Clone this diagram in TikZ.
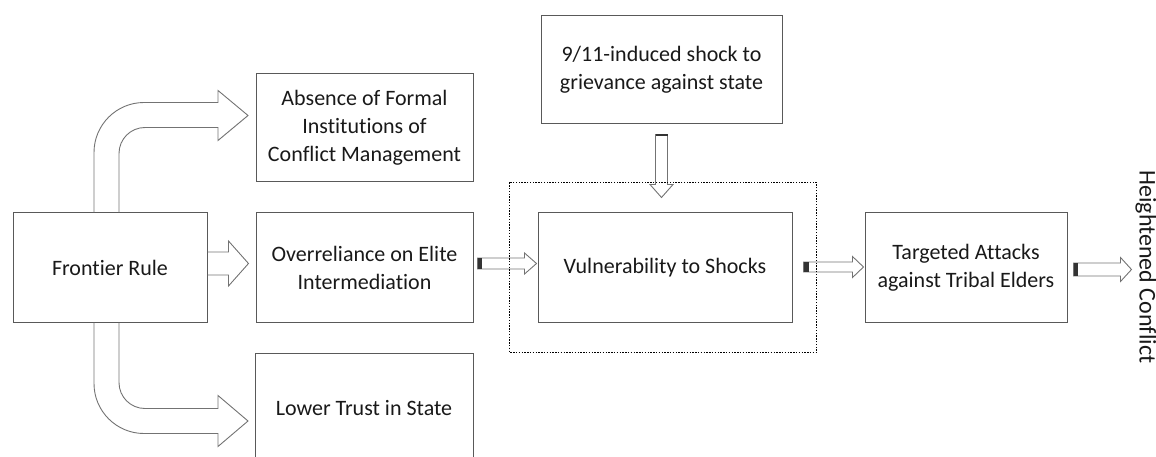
\documentclass[tikz,border=0pt]{standalone}
\usepackage{fontspec}
\setmainfont{Carlito}[Ligatures=NoCommon]
\usepackage{tikz}
\usetikzlibrary{calc}
\tikzset{
  box/.style={draw=black!65, line width=1pt, align=center, text=black!90,
    font=\fontsize{22}{28}\selectfont, inner sep=2pt},
  hollow/.style={draw=black!55, line width=0.9pt, line join=miter},
  tailcap/.style={fill=black!80},
  zone/.style={draw=black, line width=1.4pt, dash pattern=on 1.4pt off 1.4pt},
}

\begin{document}
\begin{tikzpicture}[x=1pt, y=-1pt]
  \useasboundingbox (0, 0) rectangle (1156, 457);
  \clip (0, 0) rectangle (1156, 457);

  % boxes
  \node[box, minimum width=194, minimum height=109] at (110, 267.5) (frontier) {Frontier Rule};
  \node[box, minimum width=217, minimum height=108] at (364.5, 128) (absence)
    {Absence of Formal\\Institutions of\\Conflict Management};
  \node[box, minimum width=217, minimum height=109] at (364.5, 267.5) (overreliance)
    {Overreliance on Elite\\Intermediation};
  \node[box, minimum width=218, minimum height=110] at (364, 408) (lowertrust) {Lower Trust in State};
  \node[box, minimum width=241, minimum height=108] at (661.5, 70) (shock)
    {9/11-induced shock to\\grievance against state};
  \node[box, minimum width=254, minimum height=109] at (665, 267.5) (vulnerability) {Vulnerability to Shocks};
  \node[box, minimum width=202, minimum height=109] at (966, 267.5) (targeted)
    {Targeted Attacks\\against Tribal Elders};
  \node[rotate=-90, text=black!90, font=\fontsize{24}{28}\selectfont] at (1146, 267) (conflict)
    {Heightened Conflict};

  % curved arrows out of frontier rule
  \draw[hollow] (frontier.north) ++(-16, 0) -- ++(0, -60)
    .. controls +(0, -27.6) and +(-27.6, 0) .. ++(50, -50) -- ++(74, 0)
    -- ++(0, -12) -- ++(30, 25) -- ++(-30, 25) -- ++(0, -13) -- ++(-73, 0)
    .. controls +(-14.4, 0) and +(0, -14.4) .. ++(-26, 26) -- ++(0, 59);
  \draw[hollow] (frontier.south) ++(-16, 0) -- ++(0, 61)
    .. controls +(0, 27.6) and +(-27.6, 0) .. ++(50, 50) -- ++(74, 0)
    -- ++(0, 13) -- ++(30, -25.5) -- ++(-30, -25.5) -- ++(0, 13) -- ++(-73, 0)
    .. controls +(-14.4, 0) and +(0, 14.4) .. ++(-26, -26) -- ++(0, -60);
  \draw[hollow] (frontier.east) ++(0, -15.5) -- ++(21, 0) -- ++(0, -11)
    -- ++(20, 22.5) -- ++(-20, 22.5) -- ++(0, -11) -- ++(-21, 0);

  % small arrows
  \draw[hollow] (overreliance.east) ++(4, -9.5) -- ++(47, 0) -- ++(0, -5)
    -- ++(12, 10.5) -- ++(-12, 10.5) -- ++(0, -5) -- ++(-47, 0) -- cycle;
  \fill[tailcap] (overreliance.east) ++(4, -9.5) rectangle ++(4, 11);

  \draw[hollow] (vulnerability.east) ++(11, -5.5) -- ++(49, 0) -- ++(0, -5.5)
    -- ++(11, 10.5) -- ++(-11, 10.5) -- ++(0, -5.5) -- ++(-49, 0) -- cycle;
  \fill[tailcap] (vulnerability.east) ++(11, -5.5) rectangle ++(5, 10);

  \draw[hollow] (targeted.east) ++(6, -4.5) -- ++(47, 0) -- ++(0, -5.5)
    -- ++(11, 12) -- ++(-11, 12) -- ++(0, -5.5) -- ++(-47, 0) -- cycle;
  \fill[tailcap] (targeted.east) ++(6, -4.5) rectangle ++(4, 13);

  \draw[hollow] (shock.south) ++(-6, 10) -- ++(0, 50) -- ++(-5.5, 0)
    -- ++(11.5, 13) -- ++(11.5, -13) -- ++(-5.5, 0) -- ++(0, -50) -- cycle;
  \fill[tailcap] (shock.south) ++(-6, 10) rectangle ++(12, 1.5);

  % dotted frame round vulnerability
  \draw[zone] ($(vulnerability.north west) + (-28, -30)$) rectangle
    ($(vulnerability.south east) + (24, 30)$);
\end{tikzpicture}
\end{document}
